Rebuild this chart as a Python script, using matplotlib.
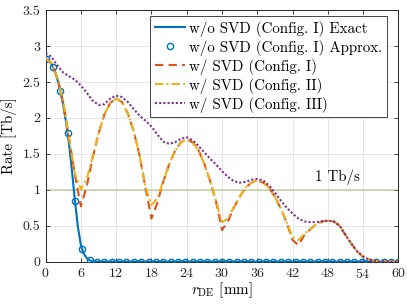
import numpy as np
import matplotlib
matplotlib.use("Agg")
import matplotlib.pyplot as plt
from matplotlib.ticker import FormatStrFormatter

plt.rcParams['font.family'] = ['cmr10', 'DejaVu Serif']
plt.rcParams['mathtext.fontset'] = 'cm'
plt.rcParams['axes.formatter.use_mathtext'] = True
plt.rcParams['font.size'] = 10.8

# exact curve without SVD (Config. I)
x_exact = [0, 0.5, 1, 1.5, 2, 2.5, 3, 3.5, 4, 4.5, 5, 5.5, 6, 6.5, 7, 7.5, 8, 8.5, 9, 60]
rate_exact = [2.82, 2.80, 2.75, 2.66, 2.54, 2.38, 2.17, 1.93, 1.63, 1.25, 0.84, 0.48,
              0.23, 0.11, 0.05, 0.02, 0.005, 0.0, 0.0, 0.0]

# approximation markers, every 1.25 mm
x_approx = list(np.arange(0, 60.01, 1.25))
rate_approx = [2.82, 2.71, 2.38, 1.79, 0.84, 0.17, 0.02] + [0.0] * 42

# curves with SVD, 1 mm grid
x_svd = list(range(0, 61))
rate_cfg1 = [2.83, 2.76, 2.56, 2.22, 1.72, 1.20, 0.77, 1.05, 1.44, 1.78, 2.05, 2.21,
             2.27, 2.22, 2.06, 1.81, 1.47, 1.02, 0.60, 0.82, 1.11, 1.35, 1.54, 1.66,
             1.70, 1.66, 1.55, 1.36, 1.12, 0.83, 0.44, 0.56, 0.75, 0.90, 1.03, 1.10,
             1.13, 1.10, 1.03, 0.90, 0.74, 0.54, 0.30, 0.23, 0.37, 0.45, 0.52, 0.56,
             0.57, 0.56, 0.50, 0.37, 0.25, 0.14, 0.07, 0.03, 0.01, 0.0, 0.0, 0.0, 0.0]
rate_cfg2 = [2.83, 2.76, 2.56, 2.22, 1.72, 1.22, 1.01, 1.15, 1.46, 1.78, 2.05, 2.21,
             2.27, 2.22, 2.06, 1.81, 1.47, 1.04, 0.79, 0.88, 1.12, 1.35, 1.54, 1.66,
             1.70, 1.66, 1.55, 1.36, 1.12, 0.84, 0.55, 0.60, 0.76, 0.90, 1.03, 1.10,
             1.13, 1.10, 1.03, 0.90, 0.74, 0.55, 0.34, 0.30, 0.39, 0.45, 0.52, 0.56,
             0.57, 0.56, 0.50, 0.37, 0.25, 0.14, 0.07, 0.03, 0.01, 0.0, 0.0, 0.0, 0.0]
rate_cfg3 = [2.90, 2.85, 2.73, 2.63, 2.58, 2.53, 2.45, 2.35, 2.24, 2.18, 2.19, 2.27,
             2.31, 2.29, 2.22, 2.12, 2.03, 1.96, 1.88, 1.77, 1.67, 1.64, 1.66, 1.71,
             1.73, 1.69, 1.61, 1.52, 1.43, 1.35, 1.26, 1.18, 1.12, 1.10, 1.11, 1.14,
             1.15, 1.13, 1.06, 0.96, 0.85, 0.75, 0.67, 0.60, 0.56, 0.55, 0.55, 0.56,
             0.57, 0.56, 0.50, 0.37, 0.25, 0.14, 0.07, 0.03, 0.01, 0.0, 0.0, 0.0, 0.0]

blue = '#0072BD'
red = '#D95319'
yellow = '#EDB120'
purple = '#7E2F8E'
green = '#77AC30'

fig = plt.figure(figsize=(4.07, 3.05), dpi=100)
ax = fig.add_axes([0.112, 0.142, 0.867, 0.825])

ax.axhline(1, color=green, alpha=0.4, lw=1.2, zorder=1)
ax.text(45.8, 1.06, '1 Tb/s', ha='left', va='bottom')

ax.plot(x_exact, rate_exact, '-', color=blue, lw=1.5, label='w/o SVD (Config. I) Exact', zorder=3)
ax.plot(x_approx, rate_approx, 'o', color=blue, mfc='none', ms=4.5, mew=1.0,
        label='w/o SVD (Config. I) Approx.', zorder=3)
ax.plot(x_svd, rate_cfg1, color=red, lw=1.5, ls=(0, (4, 2.5)), label='w/ SVD (Config. I)', zorder=4)
ax.plot(x_svd, rate_cfg2, color=yellow, lw=1.5, ls=(0, (4, 1.5, 1, 1.5)), label='w/ SVD (Config. II)', zorder=5)
ax.plot(x_svd, rate_cfg3, color=purple, lw=1.5, ls=(0, (1, 1)), label='w/ SVD (Config. III)', zorder=6)

ax.set_xlim(0, 60)
ax.set_ylim(0, 3.5)
ax.set_xticks(range(0, 61, 6))
ax.set_yticks(np.arange(0, 3.51, 0.5))
ax.yaxis.set_major_formatter(FormatStrFormatter('%g'))
ax.grid(True, color='#e6e6e6', lw=0.7)
ax.set_axisbelow(True)
ax.tick_params(direction='in', top=True, right=True, length=3, width=0.6, colors='#262626',
               labelcolor='#262626', labelsize=10)
for s in ax.spines.values():
    s.set_color('#262626')
    s.set_linewidth(0.7)

ax.set_xlabel(r'$r_{\mathrm{DE}}$ [mm]', labelpad=0)
ax.set_ylabel('Rate [Tb/s]', labelpad=4)

leg = ax.legend(loc='upper right', bbox_to_anchor=(0.968, 0.976), borderaxespad=0,
                fancybox=False, framealpha=1, edgecolor='#262626', labelspacing=0.2,
                handlelength=2.0, handletextpad=0.3, borderpad=0.3)
leg.get_frame().set_linewidth(0.6)

fig.savefig('out.png', dpi=100)
